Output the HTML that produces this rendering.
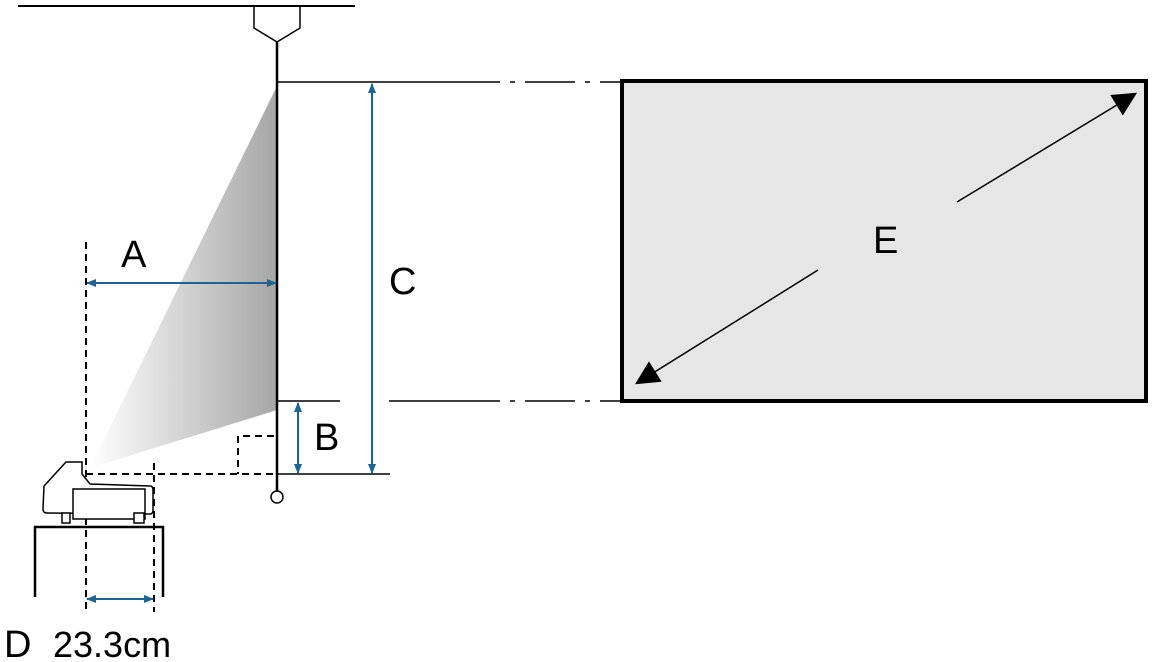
<!DOCTYPE html>
<html><head><style>body{margin:0;background:#fff}svg{display:block}</style></head><body>
<svg width="1153" height="662" viewBox="0 0 1153 662" xmlns="http://www.w3.org/2000/svg" font-family="Liberation Sans, sans-serif">
<defs>
<linearGradient id="g" x1="0" y1="0" x2="1" y2="0"><stop offset="0" stop-color="#fff"/><stop offset="1" stop-color="#a6a6a6"/></linearGradient>
<marker id="b" viewBox="0 0 10 10" refX="9" refY="5" markerWidth="5" markerHeight="5" orient="auto-start-reverse"><path d="M0,1 L10,5 L0,9 z" fill="#1a6496"/></marker>
<marker id="k" viewBox="0 0 10 10" refX="9" refY="5" markerWidth="30" markerHeight="24" markerUnits="userSpaceOnUse" orient="auto-start-reverse"><path d="M0,0 L10,5 L0,10 z" fill="#000"/></marker>
</defs>
<polygon points="277,86 277,410 90,468" fill="url(#g)"/>
<line x1="18" y1="6" x2="355" y2="6" stroke="#000" stroke-width="2"/>
<polyline points="254,6 254,28 277,42 300,28 300,6" fill="none" stroke="#000" stroke-width="1.5"/>
<line x1="277" y1="42" x2="277" y2="491" stroke="#000" stroke-width="2.5"/>
<circle cx="277" cy="497" r="6" fill="#fff" stroke="#000" stroke-width="1.5"/>
<line x1="277" y1="82" x2="450" y2="82" stroke="#000" stroke-width="1.5"/>
<line x1="450" y1="82" x2="620" y2="82" stroke="#000" stroke-width="1.5" stroke-dasharray="50,10,5,10"/>
<line x1="277" y1="401" x2="340" y2="401" stroke="#000" stroke-width="1.5"/>
<line x1="389" y1="401" x2="450" y2="401" stroke="#000" stroke-width="1.5"/>
<line x1="450" y1="401" x2="620" y2="401" stroke="#000" stroke-width="1.5" stroke-dasharray="50,10,5,10"/>
<line x1="277" y1="474" x2="390" y2="474" stroke="#000" stroke-width="1.5"/>
<rect x="622" y="81" width="524" height="320" fill="#e6e6e6" stroke="#000" stroke-width="4"/>
<line x1="818" y1="270" x2="637" y2="383" stroke="#000" stroke-width="1.5" marker-end="url(#k)"/>
<line x1="957" y1="202" x2="1135" y2="94" stroke="#000" stroke-width="1.5" marker-end="url(#k)"/>
<text x="873" y="253" font-size="38">E</text>
<g stroke="#1a6496" stroke-width="2" fill="none">
<line x1="372" y1="84" x2="372" y2="473" marker-start="url(#b)" marker-end="url(#b)"/>
<line x1="298" y1="403" x2="298" y2="473" marker-start="url(#b)" marker-end="url(#b)"/>
<line x1="87" y1="283" x2="276" y2="283" marker-start="url(#b)" marker-end="url(#b)"/>
<line x1="87" y1="599" x2="153" y2="599" marker-start="url(#b)" marker-end="url(#b)"/>
</g>
<g stroke="#000" stroke-width="2" stroke-dasharray="7,5" fill="none">
<line x1="86" y1="242" x2="86" y2="612"/>
<line x1="154" y1="463" x2="154" y2="612"/>
<line x1="86" y1="474" x2="277" y2="474"/>
<polyline points="274,436 238,436 238,474"/>
</g>
<g stroke="#000" stroke-width="1.5" fill="#fff">
<path d="M44,486 L66,462 L82,462 L82,474 L90,484 L150,486 Q153,486 153,490 L153,510 Q153,514 150,514 L47,513 Q43,513 43,509 z"/>
<rect x="73" y="489" width="72" height="30"/>
<rect x="62" y="513" width="8" height="10"/>
<rect x="134" y="513" width="10" height="10"/>
</g>
<g stroke="#000" stroke-width="2.5" fill="none">
<polyline points="35,597 35,527 163,527 163,597"/>
</g>
<text x="121" y="267" font-size="38">A</text>
<text x="389" y="294" font-size="38">C</text>
<text x="314" y="450" font-size="38">B</text>
<text x="4" y="657" font-size="38">D</text>
<text x="53" y="657" font-size="36">23.3cm</text>
</svg>
</body></html>
